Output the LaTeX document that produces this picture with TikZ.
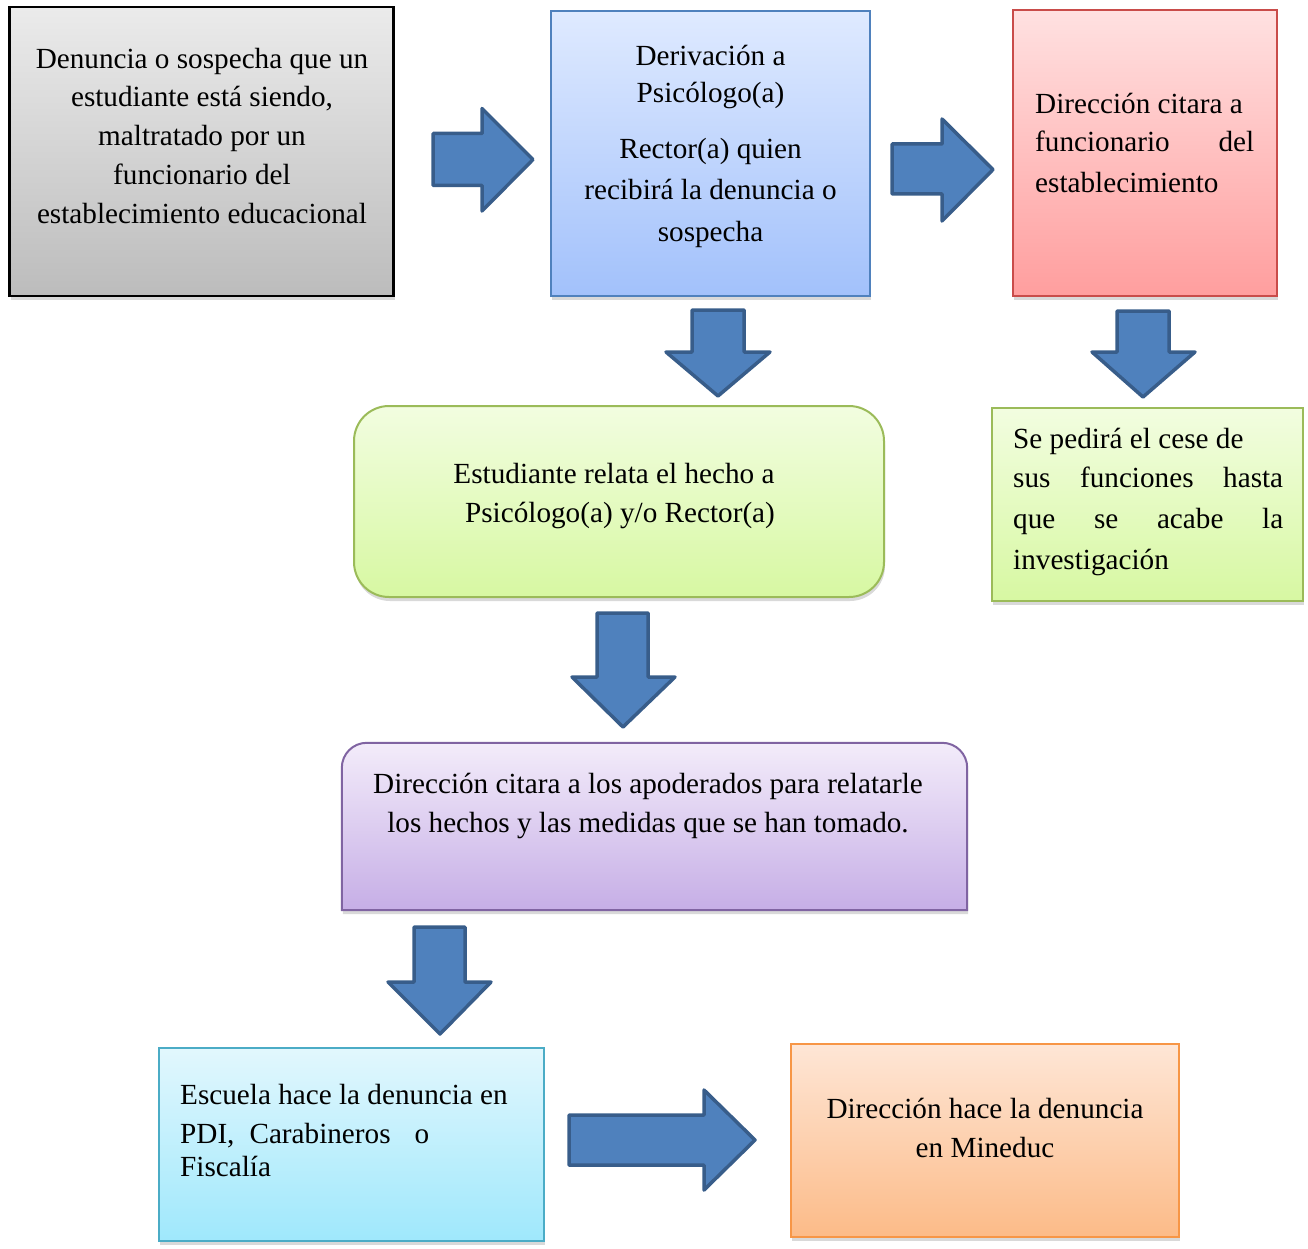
\documentclass[tikz,border=0pt]{standalone}
\usepackage{fontspec}
\setmainfont{Liberation Serif}
\usetikzlibrary{shadows}
\definecolor{grayT}{HTML}{EBEBEB}\definecolor{grayB}{HTML}{BCBCBC}
\definecolor{blueT}{HTML}{DFEAFF}\definecolor{blueB}{HTML}{A2C1FB}\definecolor{blueL}{HTML}{4F81BD}
\definecolor{redT}{HTML}{FFE1E1}\definecolor{redB}{HTML}{FF9E9E}\definecolor{redL}{HTML}{C94C4A}
\definecolor{greenT}{HTML}{F2FDE0}\definecolor{greenB}{HTML}{D7F8A2}\definecolor{greenL}{HTML}{9BBB59}
\definecolor{purpT}{HTML}{F3ECFA}\definecolor{purpB}{HTML}{C6AEE6}\definecolor{purpL}{HTML}{8064A2}
\definecolor{cyanT}{HTML}{E2F7FD}\definecolor{cyanB}{HTML}{9FE8FC}\definecolor{cyanL}{HTML}{4BACC6}
\definecolor{oranT}{HTML}{FEE6D6}\definecolor{oranB}{HTML}{FCBB88}\definecolor{oranL}{HTML}{F79646}
\definecolor{arrF}{HTML}{4F81BD}\definecolor{arrL}{HTML}{385D8A}
\newcommand\tst{\rule{0pt}{24pt}}
\tikzset{
  box/.style={rectangle, inner sep=0pt, line width=2pt,
    drop shadow={shadow xshift=1pt, shadow yshift=-4pt, opacity=0.3}},
  graybox/.style={box, draw=black, line width=2.5pt, top color=grayT, bottom color=grayB},
  bluebox/.style={box, draw=blueL, top color=blueT, bottom color=blueB},
  redbox/.style={box, draw=redL, top color=redT, bottom color=redB},
  greenbox/.style={box, draw=greenL, top color=greenT, bottom color=greenB},
  cyanbox/.style={box, draw=cyanL, top color=cyanT, bottom color=cyanB},
  oranbox/.style={box, draw=oranL, top color=oranT, bottom color=oranB},
  purpbox/.style={line width=2pt, draw=purpL, top color=purpT, bottom color=purpB,
    drop shadow={shadow xshift=1pt, shadow yshift=-4pt, opacity=0.3}},
  barrow/.style={fill=arrF, draw=arrL, line width=3.5pt, line join=round},
  txt/.style={inner sep=0pt, font=\fontsize{29.2}{38.8}\selectfont, anchor=north},
}
\begin{document}
\begin{tikzpicture}[x=1pt,y=-1pt]
\useasboundingbox (0,0) rectangle (1308,1249);
% boxes
\node[graybox, minimum width=384, minimum height=289] (b1) at (201.5,151.5) {};
\node[bluebox, minimum width=319, minimum height=285] (b2) at (710.5,153.5) {};
\node[redbox, minimum width=264, minimum height=286] (b3) at (1145,153) {};
\node[greenbox, rounded corners=35, minimum width=530, minimum height=191] (b4) at (619,501.5) {};
\node[greenbox, minimum width=311, minimum height=193] (b5) at (1147.5,504.5) {};
\node[inner sep=0pt, minimum width=625, minimum height=167] (b6) at (654.5,826.5) {};
\path[purpbox] (b6.south west) [rounded corners=25] -- (b6.north west) -- (b6.north east) [sharp corners] -- (b6.south east) -- cycle;
\node[cyanbox, minimum width=385, minimum height=193] (b7) at (351,1144.5) {};
\node[oranbox, minimum width=388, minimum height=193] (b8) at (985,1140.5) {};
% texts
\node[txt, align=center] (t1) at (202,44) {\tst Denuncia o sospecha que un\\estudiante está siendo,\\maltratado por un\\funcionario del\\establecimiento educacional};
\node[txt, align=center] (t2) at (710.5,41) {\tst Derivación a\\[-1.8pt]Psicólogo(a)\\[17.2pt]Rector(a) quien\\[2.2pt]recibirá la denuncia o\\[3.2pt]sospecha};
\node[txt, anchor=north west, align=left] (t3) at (1035,89) {\tst Dirección citara a\\\makebox[219pt][s]{funcionario del}\\[2pt]establecimiento};
\node[txt, align=center] (t4) at (614,459) {\tst Estudiante relata el hecho a\\\hspace*{12pt}Psicólogo(a) y/o Rector(a)};
\node[txt, anchor=north west, align=left] (t5) at (1013,424) {\tst Se pedirá el cese de\\\makebox[270pt][s]{sus funciones hasta}\\[3pt]\makebox[270pt][s]{que se acabe la}\\[2pt]investigación};
\node[txt, align=center] (t6) at (648,769) {\tst Dirección citara a los apoderados para relatarle\\los hechos y las medidas que se han tomado.};
\node[txt, anchor=north west, align=left] (t7) at (180,1080) {\tst Escuela hace la denuncia en\\PDI,\hspace{15pt}Carabineros\hspace{24pt}o\\[-5.8pt]Fiscalía};
\node[txt, align=center] (t8) at (985,1094) {\tst Dirección hace la denuncia\\en Mineduc};
% block arrows
\draw[barrow] (433,133.5) -- (482,133.5) -- (482,108.5) -- (533,159.5) -- (482,211) -- (482,185.5) -- (433,185.5) -- cycle;
\draw[barrow] (892,144) -- (942,144) -- (942,119) -- (993,169.5) -- (942,221) -- (942,194) -- (892,194) -- cycle;
\draw[barrow] (692,310) -- (744,310) -- (744,352) -- (770,352) -- (718,396) -- (666,352) -- (692,352) -- cycle;
\draw[barrow] (1117,311) -- (1169,311) -- (1169,352) -- (1195,352) -- (1143,397) -- (1092,352) -- (1117,352) -- cycle;
\draw[barrow] (597,613) -- (648,613) -- (648,677) -- (675,677) -- (623,727) -- (572,677) -- (597,677) -- cycle;
\draw[barrow] (414,927) -- (465,927) -- (465,982) -- (491,982) -- (440,1034) -- (388,982) -- (414,982) -- cycle;
\draw[barrow] (569,1115) -- (704,1115) -- (704,1090) -- (755,1140) -- (704,1190) -- (704,1165) -- (569,1165) -- cycle;
\end{tikzpicture}
\end{document}
